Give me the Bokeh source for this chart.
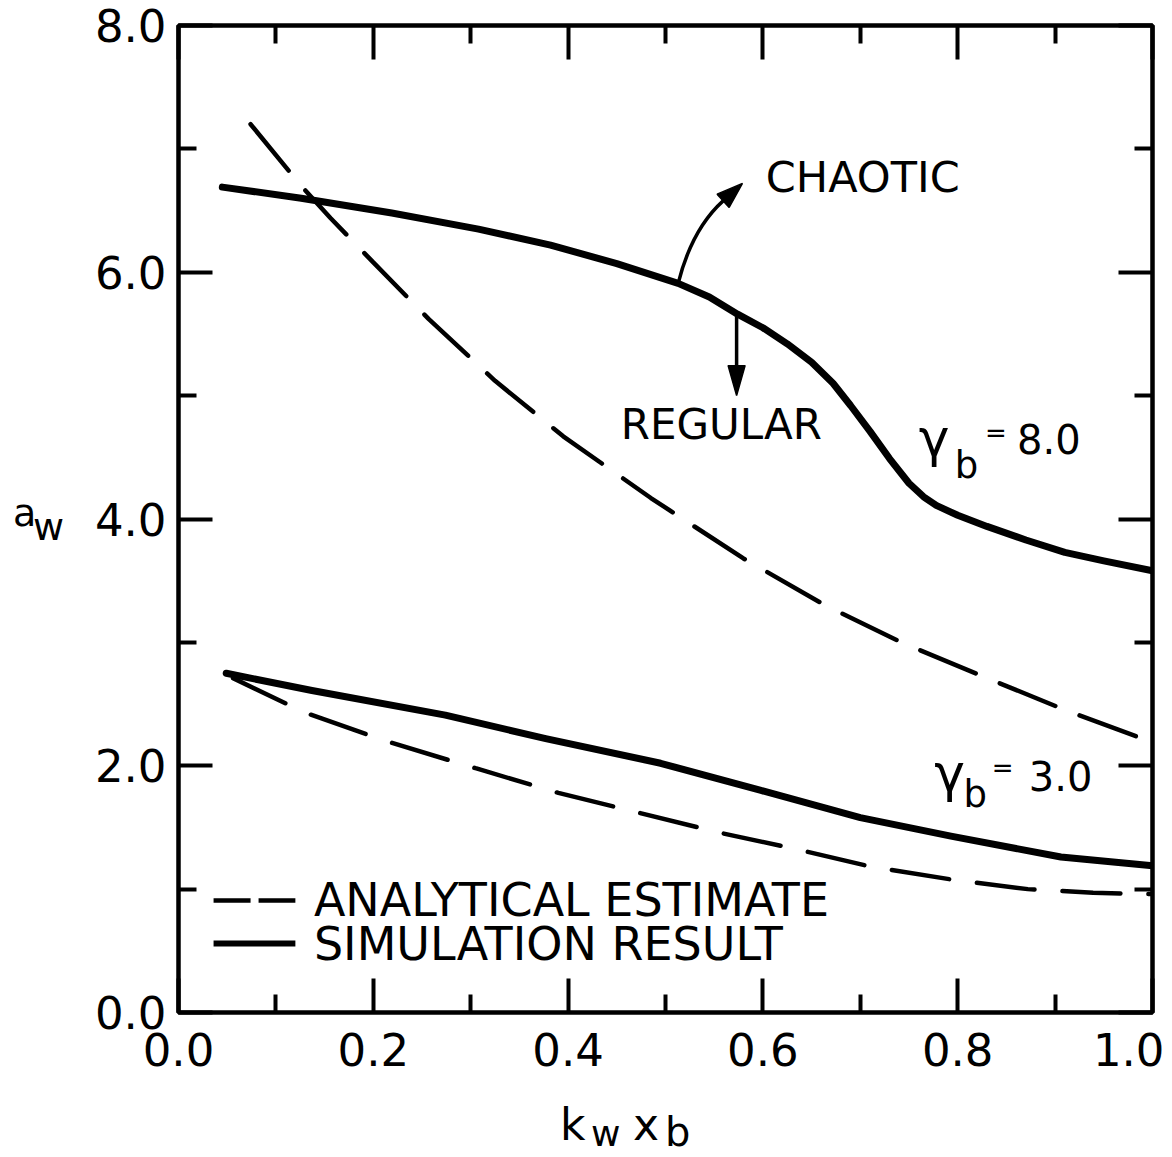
import math
from bokeh.plotting import figure
from bokeh.models import Range1d, FixedTicker, LinearAxis, Label, Div, CustomJSTickFormatter
from bokeh.layouts import row, column
from bokeh.embed import file_html
from bokeh.resources import INLINE

# ---------------- data ----------------
upper_sim_x = [0.045, 0.126, 0.219, 0.308, 0.382, 0.450, 0.513, 0.545, 0.574, 0.600, 0.625, 0.650,
               0.672, 0.690, 0.710, 0.730, 0.750, 0.765, 0.778, 0.800, 0.830, 0.870, 0.910, 0.950, 1.000]
upper_sim_y = [6.69, 6.60, 6.48, 6.35, 6.22, 6.07, 5.91, 5.80, 5.66, 5.55, 5.42, 5.27,
               5.10, 4.92, 4.71, 4.49, 4.29, 4.18, 4.11, 4.03, 3.94, 3.83, 3.73, 3.66, 3.58]

upper_ana_x = [0.074, 0.126, 0.156, 0.200, 0.257, 0.325, 0.395, 0.485, 0.580, 0.664, 0.745, 0.824, 0.914, 1.000]
upper_ana_y = [7.20, 6.70, 6.44, 6.08, 5.62, 5.12, 4.67, 4.17, 3.68, 3.30, 2.99, 2.73, 2.44, 2.19]

lower_sim_x = [0.049, 0.137, 0.274, 0.377, 0.495, 0.598, 0.700, 0.793, 0.906, 1.000]
lower_sim_y = [2.75, 2.61, 2.41, 2.22, 2.02, 1.80, 1.58, 1.43, 1.26, 1.19]

lower_ana_x = [0.056, 0.130, 0.213, 0.305, 0.390, 0.472, 0.554, 0.631, 0.712, 0.800, 0.872, 0.939, 1.000]
lower_ana_y = [2.71, 2.43, 2.20, 1.98, 1.78, 1.62, 1.46, 1.33, 1.18, 1.07, 1.00, 0.97, 0.96]

x_major = [0.0, 0.2, 0.4, 0.6, 0.8, 1.0]
x_minor = [0.1, 0.3, 0.5, 0.7, 0.9]
x_tick_labels = ["0.0", "0.2", "0.4", "0.6", "0.8", "1.0"]
y_major = [0.0, 2.0, 4.0, 6.0, 8.0]
y_minor = [1.0, 3.0, 5.0, 7.0]
y_tick_labels = ["0.0", "2.0", "4.0", "6.0", "8.0"]

legend_labels = ["ANALYTICAL ESTIMATE", "SIMULATION RESULT"]

# ---------------- layout constants ----------------
FONT = "DejaVu Sans"
FW, FH = 974, 987
X0, X1, Y0, Y1 = 0.0, 1.0, 0.0, 8.0
SX = FW / (X1 - X0)
SY = FH / (Y1 - Y0)
YDIV_W = 90
BORDER_L, BORDER_R, BORDER_T, BORDER_B = 178 - YDIV_W, 12, 25, 75
FIG_W = BORDER_L + FW + BORDER_R
FIG_H = BORDER_T + FH + BORDER_B
XDIV_H = 1157 - FIG_H

p = figure(frame_width=FW, frame_height=FH,
           x_range=Range1d(X0, X1), y_range=Range1d(Y0, Y1),
           min_border_left=BORDER_L, min_border_right=BORDER_R,
           min_border_top=BORDER_T, min_border_bottom=BORDER_B,
           output_backend="svg", toolbar_location=None)
p.background_fill_color = "white"
p.border_fill_color = "white"
p.grid.visible = False
p.outline_line_color = "black"
p.outline_line_width = 4.5


def style_axis(ax, major, minor, labels, show_labels):
    ax.ticker = FixedTicker(ticks=major, minor_ticks=minor)
    ax.axis_line_color = None
    ax.major_tick_in = 34
    ax.major_tick_out = 0
    ax.minor_tick_in = 18
    ax.minor_tick_out = 0
    ax.major_tick_line_width = 4
    ax.minor_tick_line_width = 4
    ax.major_tick_line_color = "black"
    ax.minor_tick_line_color = "black"
    if show_labels:
        ax.major_label_overrides = {t: s for t, s in zip(major, labels)}
        ax.major_label_text_font = FONT
        ax.major_label_text_font_size = "45px"
        ax.major_label_text_color = "black"
    else:
        ax.formatter = CustomJSTickFormatter(code="return ''")
        ax.major_label_text_font_size = "10px"
        ax.major_label_standoff = 0


bx = p.xaxis[0]
ly = p.yaxis[0]
style_axis(bx, x_major, x_minor, x_tick_labels, True)
bx.major_label_standoff = 20
style_axis(ly, y_major, y_minor, y_tick_labels, True)
ly.major_label_standoff = 12

tx = LinearAxis()
style_axis(tx, x_major, x_minor, x_tick_labels, False)
p.add_layout(tx, "above")
ry = LinearAxis()
style_axis(ry, y_major, y_minor, y_tick_labels, False)
p.add_layout(ry, "right")

# ---------------- curves ----------------
SOLID_W = 7
DASH_W = 4.5
p.line(upper_sim_x, upper_sim_y, line_width=SOLID_W, color="black", line_join="round", line_cap="round")
p.line(lower_sim_x, lower_sim_y, line_width=SOLID_W, color="black", line_join="round", line_cap="round")
p.line(upper_ana_x, upper_ana_y, line_width=DASH_W, color="black", line_dash="60 26", line_cap="round")
p.line(lower_ana_x, lower_ana_y, line_width=DASH_W, color="black", line_dash="58 28", line_cap="round")


# ---------------- arrows ----------------
def head(tip_x, tip_y, dxp, dyp, L, W):
    n = math.hypot(dxp, dyp)
    ux, uy = dxp / n, dyp / n
    px, py = -uy, ux
    xs = [tip_x,
          tip_x + (-L * ux + W / 2 * px) / SX,
          tip_x + (-L * ux - W / 2 * px) / SX]
    ys = [tip_y,
          tip_y + (-L * uy + W / 2 * py) / SY,
          tip_y + (-L * uy - W / 2 * py) / SY]
    base = (tip_x - L * ux / SX, tip_y - L * uy / SY)
    return xs, ys, base


ch_start = (0.513, 5.91)
ch_ctrl = (0.527, 6.35)
ch_tip = (0.579, 6.72)
dxp = (ch_tip[0] - ch_ctrl[0]) * SX
dyp = (ch_tip[1] - ch_ctrl[1]) * SY
hx, hy, hb = head(ch_tip[0], ch_tip[1], dxp, dyp, 26, 18)
p.quadratic(x0=[ch_start[0]], y0=[ch_start[1]], x1=[hb[0]], y1=[hb[1]],
            cx=[ch_ctrl[0]], cy=[ch_ctrl[1]], line_width=3.5, line_color="black")
p.patch(hx, hy, fill_color="black", line_color="black", line_width=1.5)

rg_start = (0.573, 5.66)
rg_tip = (0.573, 5.00)
hx, hy, hb = head(rg_tip[0], rg_tip[1], 0, -1, 30, 17)
p.segment(x0=[rg_start[0]], y0=[rg_start[1]], x1=[hb[0]], y1=[hb[1]], line_width=3.5, line_color="black")
p.patch(hx, hy, fill_color="black", line_color="black", line_width=1.5)

# ---------------- legend ----------------
leg_x = [0.036, 0.120]
p.line(leg_x, [0.908, 0.908], line_width=DASH_W, color="black", line_dash="37 8")
p.line(leg_x, [0.559, 0.559], line_width=SOLID_W - 1, color="black")


def lab(text, x, y, size):
    # y is the vertical middle of the text
    p.add_layout(Label(x=x, y=y, text=text, text_font=FONT, text_font_size=f"{size}px",
                       text_color="black", text_baseline="middle", text_align="left"))


lab(legend_labels[0], 0.139, 0.908, 46)
lab(legend_labels[1], 0.139, 0.559, 46)

lab("CHAOTIC", 0.603, 6.77, 43)
lab("REGULAR", 0.454, 4.765, 42)

lab("γ", 0.760, 4.66, 52)
lab("b", 0.797, 4.43, 37)
lab("=", 0.828, 4.696, 26)
lab("8.0", 0.861, 4.647, 40)

lab("γ", 0.776, 1.945, 52)
lab("b", 0.806, 1.767, 37)
lab("=", 0.835, 1.981, 26)
lab("3.0", 0.873, 1.92, 40)


# ---------------- axis titles (HTML text, outside the frame) ----------------
def span(text, left, baseline, size):
    top = baseline - 0.846 * size
    return (f'<span style="position:absolute;left:{left}px;top:{top:.1f}px;'
            f'font-family:\'DejaVu Sans\';font-size:{size}px;line-height:{size}px;'
            f'color:black;white-space:nowrap;">{text}</span>')


ylab = ('<div style="position:relative;width:%dpx;height:%dpx;">' % (YDIV_W, FIG_H)
        + span("a", 13, 526, 38) + span("w", 33, 540, 38) + '</div>')
ydiv = Div(text=ylab, width=YDIV_W, height=FIG_H, margin=0)

fig_top = FIG_H
xlab = ('<div style="position:relative;width:%dpx;height:%dpx;">' % (FIG_W, XDIV_H)
        + span("k", 560 - YDIV_W, 1140 - fig_top, 44)
        + span("w", 591 - YDIV_W, 1146 - fig_top, 36)
        + span("x", 633 - YDIV_W, 1140 - fig_top, 44)
        + span("b", 665 - YDIV_W, 1146 - fig_top, 40)
        + '</div>')
xdiv = Div(text=xlab, width=FIG_W, height=XDIV_H, margin=0)

layout = row(ydiv, column(p, xdiv, spacing=0), spacing=0)

open("out.html", "w").write(file_html(layout, INLINE))
